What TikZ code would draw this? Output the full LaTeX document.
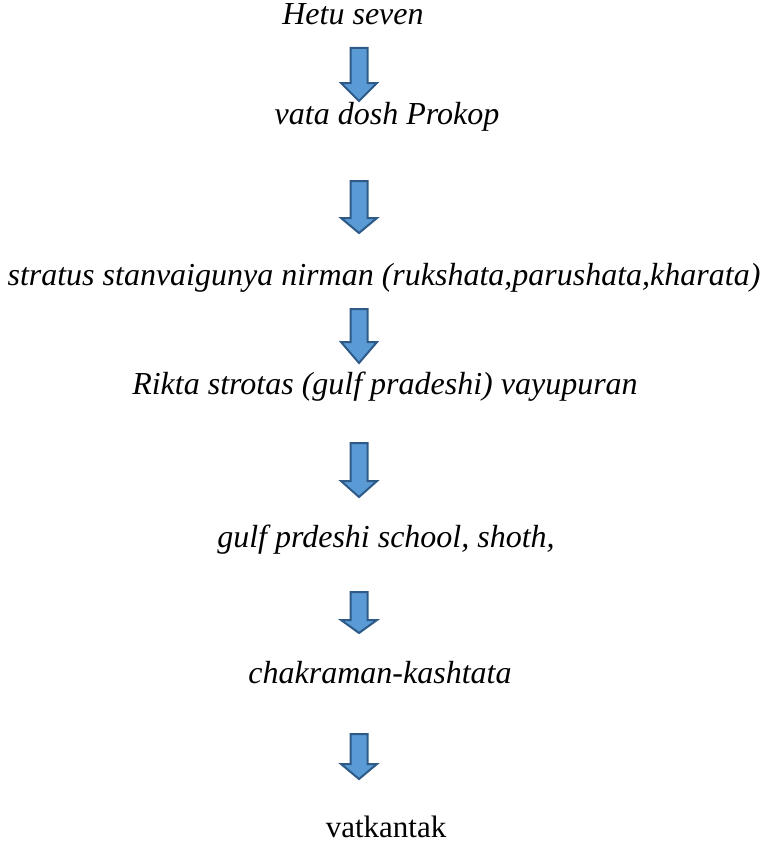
\documentclass[tikz,border=0pt]{standalone}
\usepackage{fontspec}
\setmainfont{Liberation Serif}[
  UprightFont={Liberation Serif},
  ItalicFont={Liberation Serif Italic}]
\usepackage{xcolor}
\usepackage{tikz}
\definecolor{arrowfill}{HTML}{5B9BD5}
\definecolor{arrowline}{HTML}{2E5A87}

% block arrow pointing down: x centre, shaft top, head base, tip
\newcommand{\downblock}[4]{%
  \draw[blockarrow] (#1-8.5,#2) -- (#1+8.5,#2) -- (#1+8.5,#3) -- (#1+18,#3)
    -- (#1,#4) -- (#1-18,#3) -- (#1-8.5,#3) -- cycle;}

\begin{document}
\begin{tikzpicture}[x=1pt, y=-1pt,
  step text/.style={anchor=base, inner sep=0pt, font=\fontsize{32}{38}\selectfont\itshape},
  blockarrow/.style={fill=arrowfill, draw=arrowline, line width=2pt, line join=miter}]
\useasboundingbox (0,0) rectangle (765,843);
% stages of the chain
\node[step text] (hetu)   at (353,25)  {Hetu seven};
\node[step text] (vata)   at (387,124) {vata dosh Prokop};
\node[step text] (stratus) at (384,285) {stratus stanvaigunya nirman (rukshata,parushata,kharata)};
\node[step text] (rikta)  at (385,394) {Rikta strotas (gulf pradeshi) vayupuran};
\node[step text] (gulf)   at (386,547) {gulf prdeshi school, shoth,};
\node[step text] (chakra) at (380,683) {chakraman-kashtata};
\node[step text, font=\fontsize{31}{37}\selectfont] (vatk) at (386,837) {vatkantak};
% arrows between the stages
\downblock{359}{48}{83}{101}
\downblock{359}{181}{218}{233}
\downblock{359}{309}{342}{363}
\downblock{359}{443}{481}{497}
\downblock{359}{592}{620}{633}
\downblock{359}{734}{764}{779}
\end{tikzpicture}
\end{document}
